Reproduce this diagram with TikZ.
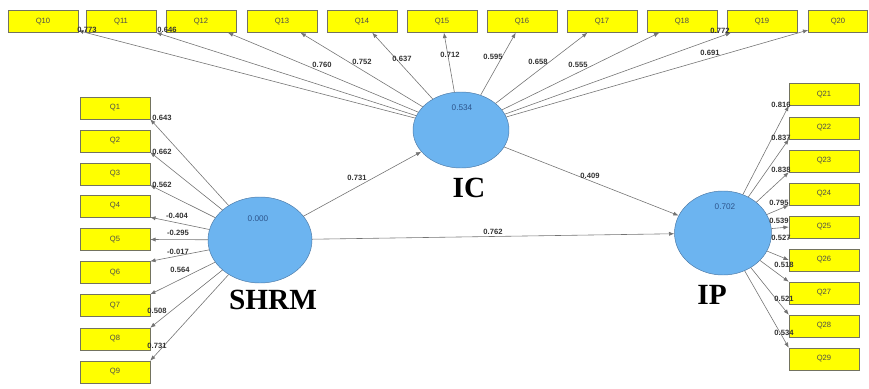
\documentclass[tikz,border=0pt]{standalone}
\usepackage{fontspec}
\setmainfont{Liberation Sans}
\newfontfamily\namefont{Liberation Serif}
\usetikzlibrary{arrows.meta,shapes.geometric}
\definecolor{itemfill}{RGB}{255,255,0}
\definecolor{itemedge}{RGB}{115,115,95}
\definecolor{latfill}{RGB}{108,180,240}
\definecolor{latedge}{RGB}{75,120,165}
\definecolor{rsqtext}{RGB}{45,85,140}
\tikzset{
  item/.style={draw=itemedge, fill=itemfill, minimum width=2.1cm, minimum height=0.66cm, inner sep=0pt, font=\fontsize{6.5}{7}\selectfont, text=black!70},
  latent/.style={ellipse, draw=latedge, fill=latfill, inner sep=0pt},
  load/.style={draw=black!55, line width=0.5pt, -{Latex[length=4.5pt,width=3.5pt]}},
  coef/.style={font=\fontsize{6.5}{7}\selectfont\bfseries, text=black!80, inner sep=0.5pt},
  rsq/.style={font=\fontsize{7}{8}\selectfont, text=rsqtext, inner sep=0.5pt},
  cname/.style={font=\namefont\bfseries\fontsize{25}{28}\selectfont, inner sep=0pt}
}

\begin{document}
\begin{tikzpicture}[x=0.03cm, y=-0.03cm]
  \useasboundingbox (0,0) rectangle (869,388);
  %%%%% constructs %%%%%
  \node[latent, minimum width=3.12cm, minimum height=2.58cm] (shrm) at (260,240) {};
  \node[latent, minimum width=2.88cm, minimum height=2.28cm] (ic) at (461,130) {};
  \node[latent, minimum width=2.91cm, minimum height=2.52cm] (ip) at (723,233) {};
  \node[rsq] (shrm-r) at (258,219) {0.000};
  \node[rsq] (ic-r) at (462,108) {0.534};
  \node[rsq] (ip-r) at (725,207) {0.702};
  \node[cname] (shrm-n) at (273,300) {SHRM};
  \node[cname] (ic-n) at (469,188) {IC};
  \node[cname] (ip-n) at (712,295) {IP};

  %%%%% indicators, top row %%%%%
  \node[item] (q10) at (43,21.5) {Q10};
  \node[item] (q11) at (121,21.5) {Q11};
  \node[item] (q12) at (201,21.5) {Q12};
  \node[item] (q13) at (282,21.5) {Q13};
  \node[item] (q14) at (362,21.5) {Q14};
  \node[item] (q15) at (442,21.5) {Q15};
  \node[item] (q16) at (522,21.5) {Q16};
  \node[item] (q17) at (602,21.5) {Q17};
  \node[item] (q18) at (682,21.5) {Q18};
  \node[item] (q19) at (762,21.5) {Q19};
  \node[item, minimum width=1.77cm] (q20) at (838,21.5) {Q20};

  %%%%% indicators, left column %%%%%
  \node[item] (q1) at (115,108) {Q1};
  \node[item] (q2) at (115,141) {Q2};
  \node[item] (q3) at (115,174) {Q3};
  \node[item] (q4) at (115,206) {Q4};
  \node[item] (q5) at (115,239.5) {Q5};
  \node[item] (q6) at (115,272.5) {Q6};
  \node[item] (q7) at (115,305.5) {Q7};
  \node[item] (q8) at (115,339) {Q8};
  \node[item] (q9) at (115,372) {Q9};

  %%%%% indicators, right column %%%%%
  \node[item] (q21) at (824,94.5) {Q21};
  \node[item] (q22) at (824,128) {Q22};
  \node[item] (q23) at (824,161) {Q23};
  \node[item] (q24) at (824,194) {Q24};
  \node[item] (q25) at (824,227) {Q25};
  \node[item] (q26) at (824,260) {Q26};
  \node[item] (q27) at (824,293) {Q27};
  \node[item] (q28) at (824,326) {Q28};
  \node[item] (q29) at (824,359) {Q29};

  %%%%% inner model %%%%%
  \draw[load] (shrm) -- (ic);
  \draw[load] (shrm) -- (ip);
  \draw[load] (ic) -- (ip);
  \node[coef] (p1) at (357,178) {0.731};
  \node[coef] (p2) at (590,176) {0.409};
  \node[coef] (p3) at (493,232) {0.762};

  %%%%% outer model IC %%%%%
  \draw[load] (ic) -- (q10);
  \draw[load] (ic) -- (q11);
  \draw[load] (ic) -- (q12);
  \draw[load] (ic) -- (q13);
  \draw[load] (ic) -- (q14);
  \draw[load] (ic) -- (q15);
  \draw[load] (ic) -- (q16);
  \draw[load] (ic) -- (q17);
  \draw[load] (ic) -- (q18);
  \draw[load] (ic) -- (q19);
  \draw[load] (ic) -- (q20);
  \node[coef] (l10) at (87,30) {0.773};
  \node[coef] (l11) at (167,30) {0.646};
  \node[coef] (l12) at (322,65) {0.760};
  \node[coef] (l13) at (362,62) {0.752};
  \node[coef] (l14) at (402,59) {0.637};
  \node[coef] (l15) at (450,55) {0.712};
  \node[coef] (l16) at (493,57) {0.595};
  \node[coef] (l17) at (538,62) {0.658};
  \node[coef] (l18) at (578,65) {0.555};
  \node[coef] (l19) at (720,31) {0.772};
  \node[coef] (l20) at (710,53) {0.691};

  %%%%% outer model SHRM %%%%%
  \draw[load] (shrm) -- (q1.south east);
  \draw[load] (shrm) -- (q2.south east);
  \draw[load] (shrm) -- (q3.south east);
  \draw[load] (shrm) -- (q4.south east);
  \draw[load] (shrm) -- (q5.east);
  \draw[load] (shrm) -- (q6.north east);
  \draw[load] (shrm) -- (q7.north east);
  \draw[load] (shrm) -- (q8.north east);
  \draw[load] (shrm) -- (q9.north east);
  \node[coef] (l1) at (162,118) {0.643};
  \node[coef] (l2) at (162,152) {0.662};
  \node[coef] (l3) at (162,185) {0.562};
  \node[coef] (l4) at (177,216) {-0.404};
  \node[coef] (l5) at (178,233) {-0.295};
  \node[coef] (l6) at (178,252) {-0.017};
  \node[coef] (l7) at (180,270) {0.564};
  \node[coef] (l8) at (157,311) {0.508};
  \node[coef] (l9) at (157,346) {0.731};

  %%%%% outer model IP %%%%%
  \draw[load] (ip) -- (q21.south west);
  \draw[load] (ip) -- (q22.south west);
  \draw[load] (ip) -- (q23.south west);
  \draw[load] (ip) -- (q24.south west);
  \draw[load] (ip) -- (q25.west);
  \draw[load] (ip) -- (q26.west);
  \draw[load] (ip) -- (q27.north west);
  \draw[load] (ip) -- (q28.north west);
  \draw[load] (ip) -- (q29.north west);
  \node[coef] (l21) at (781,105) {0.816};
  \node[coef] (l22) at (781,138) {0.837};
  \node[coef] (l23) at (781,170) {0.838};
  \node[coef] (l24) at (779,203) {0.795};
  \node[coef] (l25) at (779,221) {0.539};
  \node[coef] (l26) at (781,238) {0.527};
  \node[coef] (l27) at (784,265) {0.518};
  \node[coef] (l28) at (784,299) {0.521};
  \node[coef] (l29) at (784,333) {0.534};
\end{tikzpicture}
\end{document}
